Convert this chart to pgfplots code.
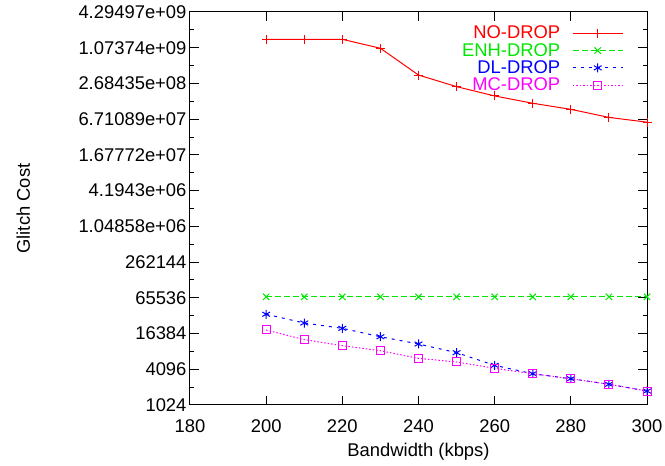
\documentclass[border=0pt]{standalone}
\usepackage{fontspec}
\setmainfont{Liberation Sans}
\usepackage{pgfplots}
\pgfplotsset{compat=1.18}
\definecolor{gred}{RGB}{255,0,0}
\definecolor{ggreen}{RGB}{0,230,0}
\definecolor{gblue}{RGB}{0,0,255}
\definecolor{gmag}{RGB}{255,0,255}
\newcommand{\ff}{\fontsize{18.4}{22}\selectfont}
\begin{document}
\begin{tikzpicture}
\begin{axis}[name=ax, scale only axis, width=457pt, height=393pt,
  font=\ff,
  /pgf/number format/assume math mode=true,
  xmin=180, xmax=300, xtick={180,200,...,300},
  ymode=log, log basis y=2, ymin=1024, ymax=4294967296,
  ytick={1024,4096,16384,65536,262144,1048576,4194304,16777216,67108864,268435456,1073741824,4294967296},
  yticklabels={1024,4096,16384,65536,262144,1.04858e+06,4.1943e+06,1.67772e+07,6.71089e+07,2.68435e+08,1.07374e+09,4.29497e+09},
  minor y tick num=0, minor x tick num=0,
  extra y ticks={2048,8192,32768,131072,524288,2097152,8388608,33554432,134217728,536870912,2147483648},
  extra y tick labels={},
  extra y tick style={major tick length=4.5pt},
  tick align=inside, major tick length=9pt,
  axis line style={line width=1pt, black},
  every tick/.style={black, line width=1pt},
  tick label style={font=\ff},
  xticklabel style={yshift=-11pt},
  label style={font=\ff},
  xlabel={Bandwidth (kbps)}, ylabel={Glitch Cost},
  xlabel style={at={(axis description cs:0.5,-0.12)}, anchor=center},
  ylabel style={at={(axis description cs:-0.365,0.5)}, anchor=center},
  clip=false,
  legend plot pos=right,
  legend style={draw=none, fill=none, font=\ff, at={(axis description cs:0.955,0.975)}, anchor=north east, cells={anchor=east}, row sep=-1pt,
    /tikz/every odd column/.append style={column sep=10pt}},
  legend image code/.code={\draw[mark repeat=2,mark phase=2] plot coordinates {(0pt,0pt) (25pt,0pt) (50pt,0pt)};},
]
\addplot[gred, line width=1pt, mark=+, mark size=4.5pt, mark options={solid}] coordinates {
(200,1.487e9)(210,1.487e9)(220,1.487e9)(230,1.051e9)(240,3.72e8)(250,2.37e8)(260,1.652e8)(270,1.244e8)(280,9.83e7)(290,7.19e7)(300,5.97e7)};
\addlegendentry{\textcolor{gred}{NO-DROP}}
\addplot[ggreen, line width=1pt, dash pattern=on 6pt off 3pt, mark=x, mark size=4.5pt, mark options={solid}] coordinates {
(200,68000)(210,68000)(220,68000)(230,68000)(240,68000)(250,68000)(260,68000)(270,68000)(280,68000)(290,68000)(300,68000)};
\addlegendentry{\textcolor{ggreen}{ENH-DROP}}
\addplot[gblue, line width=1pt, dash pattern=on 3pt off 5pt, mark=asterisk, mark size=4.5pt, mark options={solid}] coordinates {
(200,34640)(210,24660)(220,20060)(230,14470)(240,10920)(250,7800)(260,4773)(270,3445)(280,2838)(290,2288)(300,1759)};
\addlegendentry{\textcolor{gblue}{DL-DROP}}
\addplot[gmag, line width=1pt, dash pattern=on 1.5pt off 2pt, mark=square, mark size=4pt, mark options={solid}] coordinates {
(200,18820)(210,12940)(220,10230)(230,8420)(240,6255)(250,5440)(260,4250)(270,3445)(280,2838)(290,2288)(300,1759)};
\addlegendentry{\textcolor{gmag}{MC-DROP}}
\end{axis}
\pgfresetboundingbox
\path ([shift={(-190pt,-60pt)}]ax.south west) rectangle ([shift={(18pt,12pt)}]ax.north east);
\end{tikzpicture}
\end{document}
